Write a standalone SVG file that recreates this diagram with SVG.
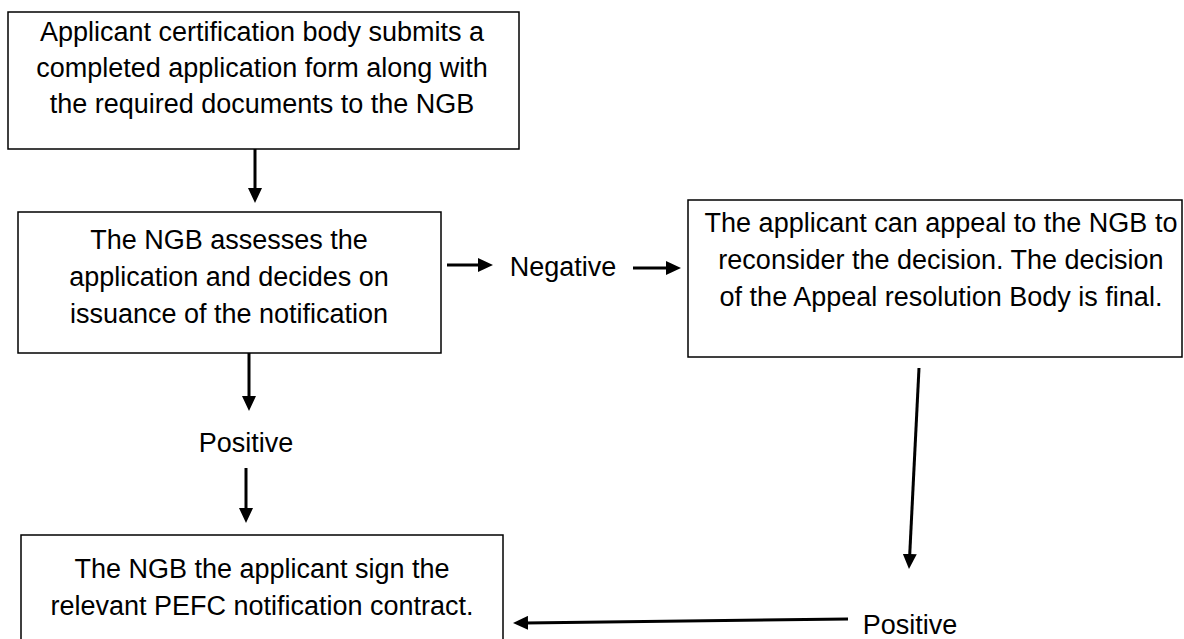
<svg xmlns="http://www.w3.org/2000/svg" width="1184" height="639" viewBox="0 0 1184 639">
  <style>
    .box { fill: #ffffff; stroke: #000000; stroke-width: 1.5; }
    .t { font-family: "Liberation Sans", Arial, sans-serif; font-size: 27px; fill: #000000; text-anchor: middle; }
    .conn { stroke: #000000; stroke-width: 3; fill: none; marker-end: url(#ah); }
  </style>
  <defs>
    <marker id="ah" markerUnits="userSpaceOnUse" markerWidth="15" markerHeight="14" refX="3" refY="7" orient="auto" viewBox="0 0 15 14">
      <path d="M0,0 L15,7 L0,14 Z" fill="#000000"/>
    </marker>
  </defs>
  <rect x="0" y="0" width="1184" height="639" fill="#ffffff"/>

  <g id="node-submit">
    <rect class="box" x="8" y="12" width="511" height="137"/>
    <text class="t" x="262" y="41">Applicant certification body submits a</text>
    <text class="t" x="262" y="77">completed application form along with</text>
    <text class="t" x="262" y="113">the required documents to the NGB</text>
  </g>

  <g id="node-assess">
    <rect class="box" x="18" y="212" width="423" height="141"/>
    <text class="t" x="229" y="249">The NGB assesses the</text>
    <text class="t" x="229" y="286">application and decides on</text>
    <text class="t" x="229" y="323">issuance of the notification</text>
  </g>

  <g id="node-appeal">
    <rect class="box" x="688" y="200" width="494" height="157"/>
    <text class="t" x="941" y="232">The applicant can appeal to the NGB to</text>
    <text class="t" x="941" y="269">reconsider the decision. The decision</text>
    <text class="t" x="941" y="306">of the Appeal resolution Body is final.</text>
  </g>

  <g id="node-contract">
    <rect class="box" x="21" y="535" width="482" height="112"/>
    <text class="t" x="262" y="578">The NGB the applicant sign the</text>
    <text class="t" x="262" y="615">relevant PEFC notification contract.</text>
  </g>

  <g id="labels">
    <text class="t" x="563" y="276">Negative</text>
    <text class="t" x="246" y="452">Positive</text>
    <text class="t" x="910" y="634">Positive</text>
  </g>

  <g id="connectors">
    <line class="conn" x1="255" y1="149" x2="255" y2="191"/>
    <line class="conn" x1="249" y1="353" x2="249" y2="399"/>
    <line class="conn" x1="246" y1="468" x2="246" y2="511"/>
    <line class="conn" x1="447" y1="265" x2="481" y2="265"/>
    <line class="conn" x1="633" y1="268" x2="669" y2="268"/>
    <line class="conn" x1="919" y1="368" x2="909.6" y2="557"/>
    <line class="conn" x1="848" y1="619" x2="525" y2="622.9"/>
  </g>
</svg>
